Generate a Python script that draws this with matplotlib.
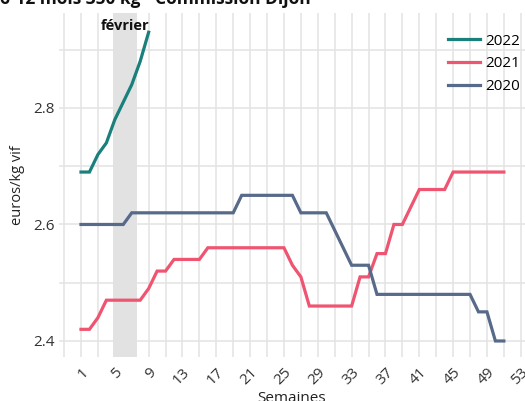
import numpy as np
import matplotlib.pyplot as plt
from matplotlib.ticker import MultipleLocator

# weekly prices, euros/kg vif
weeks_2022 = [1, 2, 3, 4, 5, 6, 7, 8, 9]
prix_2022 = [2.69, 2.69, 2.72, 2.74, 2.78, 2.81, 2.84, 2.88, 2.93]

weeks_2021 = list(range(1, 52))
prix_2021 = [2.42, 2.42, 2.44, 2.47, 2.47, 2.47, 2.47, 2.47, 2.49, 2.52,
             2.52, 2.54, 2.54, 2.54, 2.54, 2.56, 2.56, 2.56, 2.56, 2.56,
             2.56, 2.56, 2.56, 2.56, 2.56, 2.53, 2.51, 2.46, 2.46, 2.46,
             2.46, 2.46, 2.46, 2.51, 2.51, 2.55, 2.55, 2.60, 2.60, 2.63,
             2.66, 2.66, 2.66, 2.66, 2.69, 2.69, 2.69, 2.69, 2.69, 2.69,
             2.69]

weeks_2020 = list(range(1, 52))
prix_2020 = [2.60, 2.60, 2.60, 2.60, 2.60, 2.60, 2.62, 2.62, 2.62, 2.62,
             2.62, 2.62, 2.62, 2.62, 2.62, 2.62, 2.62, 2.62, 2.62, 2.65,
             2.65, 2.65, 2.65, 2.65, 2.65, 2.65, 2.62, 2.62, 2.62, 2.62,
             2.59, 2.56, 2.53, 2.53, 2.53, 2.48, 2.48, 2.48, 2.48, 2.48,
             2.48, 2.48, 2.48, 2.48, 2.48, 2.48, 2.48, 2.45, 2.45, 2.40,
             2.40]

fevrier = (4.8, 7.65)
xticks = list(range(1, 54, 4))

plt.rcParams['font.family'] = ['Open Sans', 'DejaVu Sans']

fig = plt.figure(figsize=(5.25, 4.01), dpi=100)
ax = fig.add_axes([59 / 525, 44 / 401, 466 / 525, 344 / 401])

ax.axvspan(fevrier[0], fevrier[1], color='#e1e2e1', lw=0, zorder=1)
ax.text(sum(fevrier) / 2, 2.94, 'février', ha='center', va='center',
        fontsize=10.5, fontweight='bold', color='#111111', zorder=4)

ax.plot(weeks_2022, prix_2022, color='#19807c', lw=2.3, label='2022', zorder=3,
        solid_joinstyle='miter')
ax.plot(weeks_2021, prix_2021, color='#ef5470', lw=2.3, label='2021', zorder=3,
        solid_joinstyle='miter')
ax.plot(weeks_2020, prix_2020, color='#586a8a', lw=2.3, label='2020', zorder=3,
        solid_joinstyle='miter')

ax.set_xlim(-1.6, 53.5)
ax.set_ylim(2.3725, 2.963)
ax.set_xticks(xticks)
ax.set_xticklabels([str(t) for t in xticks], rotation=45, ha='right',
                   rotation_mode='anchor')
ax.xaxis.set_minor_locator(MultipleLocator(2, offset=1))
ax.set_yticks([2.4, 2.6, 2.8])
ax.yaxis.set_minor_locator(MultipleLocator(0.1))
ax.grid(True, which='both', color='#e3e3e3', lw=1.1, zorder=0)
ax.set_axisbelow(True)
for s in ax.spines.values():
    s.set_visible(False)
ax.tick_params(which='both', length=0, labelsize=11, colors='#333333', pad=3)
ax.tick_params(axis='x', pad=6)

ax.set_xlabel('Semaines', fontsize=11, color='#222222', labelpad=2)
ax.set_ylabel('euros/kg vif', fontsize=10.5, color='#222222', labelpad=6)

ax.legend(loc='upper right', bbox_to_anchor=(1.01, 0.967), frameon=False,
          fontsize=11, handlelength=2.1, handletextpad=0.35, labelspacing=0.51,
          borderaxespad=0.2)

fig.text(0.0, 1 - 4 / 401, '6-12 mois 350 kg - Commission Dijon',
         ha='left', va='baseline', fontsize=12.5, fontweight='bold', color='#111111')

fig.savefig('out.png', dpi=100)
